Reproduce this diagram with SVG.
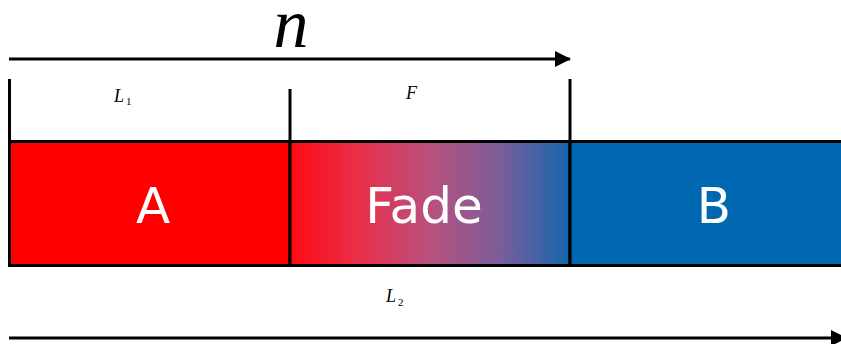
<svg xmlns="http://www.w3.org/2000/svg" width="841" height="344" viewBox="0 0 841 344">
<style>
.ln{stroke:#000;stroke-width:3;fill:none}
.box{stroke:#000;stroke-width:3}
.big{font-family:"DejaVu Sans","Liberation Sans",sans-serif;font-size:50px;fill:#fff;text-anchor:middle}
.math{font-family:"Liberation Serif",serif;font-style:italic;fill:#000}
.sub{font-family:"Liberation Serif",serif;fill:#000}
</style>
<defs>
<linearGradient id="fade" x1="0" y1="0" x2="1" y2="0">
<stop offset="0" stop-color="#ff0a14"/>
<stop offset="0.25" stop-color="#e8304a"/>
<stop offset="0.5" stop-color="#b8507e"/>
<stop offset="0.75" stop-color="#7a5e9a"/>
<stop offset="1" stop-color="#1565ad"/>
</linearGradient>
<marker id="ah" markerWidth="16" markerHeight="16" refX="15" refY="8" orient="auto" markerUnits="userSpaceOnUse">
<path d="M0,0 L16,8 L0,16 Z" fill="#000"/>
</marker>
</defs>
<rect width="841" height="344" fill="#fff"/>
<g id="connectors">
<line class="ln" x1="9" y1="59" x2="570" y2="59" marker-end="url(#ah)"/>
<line class="ln" x1="9" y1="338" x2="846" y2="338" marker-end="url(#ah)"/>
<line class="ln" x1="9.5" y1="79" x2="9.5" y2="142"/>
<line class="ln" x1="290" y1="89" x2="290" y2="142"/>
<line class="ln" x1="570" y1="79" x2="570" y2="142"/>
</g>
<g id="A">
<rect class="box" x="9.5" y="141.5" width="280.5" height="124" fill="#ff0000"/>
<text class="big" x="153" y="223">A</text>
</g>
<g id="Fade">
<rect class="box" x="290" y="141.5" width="280" height="124" fill="url(#fade)"/>
<text class="big" x="424" y="223">Fade</text>
</g>
<g id="B">
<rect class="box" x="570" y="141.5" width="275" height="124" fill="#0068b0"/>
<text class="big" x="714" y="223">B</text>
</g>
<g id="labels">
<text class="math" x="291" y="47" font-size="70" text-anchor="middle">n</text>
<text class="math" x="114" y="102" font-size="18">L</text><text class="sub" x="126" y="105" font-size="11">1</text>
<text class="math" x="406" y="99" font-size="18">F</text>
<text class="math" x="386" y="302" font-size="18">L</text><text class="sub" x="398" y="306" font-size="11">2</text>
</g>
</svg>
